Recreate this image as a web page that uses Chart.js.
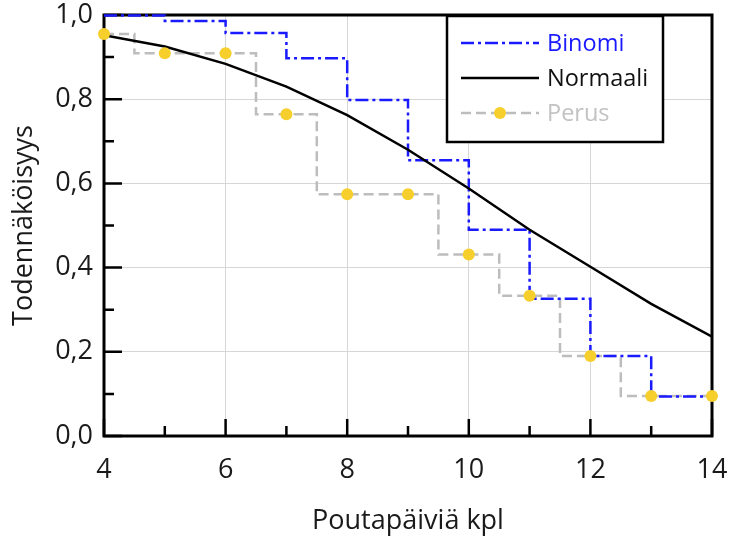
<!DOCTYPE html>
<html>
<head>
<meta charset="utf-8">
<script src="https://cdn.jsdelivr.net/npm/chart.js@4/dist/chart.umd.min.js"></script>
<style>
  html, body { margin: 0; padding: 0; background: #fff; }
  #wrap { width: 735px; height: 538px; }
</style>
</head>
<body>
<div id="wrap"><canvas id="c" width="735" height="538"></canvas></div>
<script>
// Poutapäivien lukumäärä (x) ja todennäköisyydet P(X >= x)
const poutapaivat = [4, 5, 6, 7, 8, 9, 10, 11, 12, 13, 14];
const binomi   = [0.999, 0.986, 0.957, 0.897, 0.798, 0.655, 0.490, 0.326, 0.190, 0.094, 0.094];
const normaali = [0.952, 0.925, 0.884, 0.830, 0.762, 0.680, 0.588, 0.490, 0.402, 0.314, 0.236];
const perus    = [0.955, 0.909, 0.909, 0.764, 0.574, 0.574, 0.431, 0.333, 0.190, 0.095, 0.095];

const xTickLabels = ['4', '6', '8', '10', '12', '14'];
const yTickLabels = ['0,0', '0,2', '0,4', '0,6', '0,8', '1,0'];

const seriesNames = ['Binomi', 'Normaali', 'Perus'];

const BLUE = '#1a1aff';
const GREY = '#bdbdbd';
const YELLOW = '#f6cf2c';
const FONT = "'Open Sans', 'DejaVu Sans', sans-serif";

const pts = ys => poutapaivat.map((x, i) => ({ x: x, y: ys[i] }));

// Kehys ja sisäänpäin osoittavat asteikkomerkit
const framePlugin = {
  id: 'frame',
  beforeDatasetsDraw(chart) {
    const { ctx, chartArea: a, scales: { x, y } } = chart;
    ctx.save();
    ctx.strokeStyle = '#000';
    ctx.lineWidth = 2.5;
    ctx.lineCap = 'butt';
    ctx.beginPath();
    for (let v = x.min; v <= x.max; v += 1) {
      const px = x.getPixelForValue(v);
      const len = (v % 2 === 0) ? 17 : 10;
      ctx.moveTo(px, a.bottom);
      ctx.lineTo(px, a.bottom - len);
    }
    for (let k = 0; k <= 10; k++) {
      const py = y.getPixelForValue(k / 10);
      const len = (k % 2 === 0) ? 18 : 10;
      ctx.moveTo(a.left, py);
      ctx.lineTo(a.left + len, py);
    }
    ctx.stroke();
    ctx.lineWidth = 3;
    ctx.strokeRect(a.left, a.top, a.right - a.left, a.bottom - a.top);
    ctx.restore();
  }
};

// Selite kuva-alueen oikeassa yläkulmassa
const legendBoxPlugin = {
  id: 'legendBox',
  afterDatasetsDraw(chart) {
    const { ctx, chartArea: a } = chart;
    const bx = a.right - 265, by = a.top + 1, bw = 216, bh = 126;
    ctx.save();
    ctx.fillStyle = '#fff';
    ctx.fillRect(bx, by, bw, bh);
    ctx.strokeStyle = '#000';
    ctx.lineWidth = 2.5;
    ctx.strokeRect(bx, by, bw, bh);
    const rows = [
      { color: BLUE, text: BLUE, dash: [13, 4, 3, 4], point: false },
      { color: '#000', text: '#111', dash: [], point: false },
      { color: GREY, text: '#c2c2c2', dash: [10, 5], point: true }
    ];
    rows.forEach((r, i) => {
      const yy = by + 27 + i * 35;
      const x0 = bx + 14, x1 = bx + 92;
      ctx.setLineDash(r.dash);
      ctx.strokeStyle = r.color;
      ctx.lineWidth = 2.5;
      ctx.beginPath();
      ctx.moveTo(x0, yy);
      ctx.lineTo(x1, yy);
      ctx.stroke();
      ctx.setLineDash([]);
      if (r.point) {
        ctx.fillStyle = YELLOW;
        ctx.beginPath();
        ctx.arc((x0 + x1) / 2, yy, 6, 0, Math.PI * 2);
        ctx.fill();
      }
      ctx.fillStyle = r.text;
      ctx.font = "23.5px " + FONT;
      ctx.textBaseline = 'middle';
      ctx.textAlign = 'left';
      ctx.fillText(seriesNames[i], bx + 100, yy + 1);
    });
    ctx.restore();
  }
};

new Chart(document.getElementById('c'), {
  type: 'line',
  data: {
    datasets: [
      {
        label: seriesNames[2],
        data: pts(perus),
        borderColor: GREY,
        borderWidth: 2.5,
        borderDash: [10, 5],
        stepped: 'middle',
        pointRadius: 0,
        order: 4
      },
      {
        label: seriesNames[0],
        data: pts(binomi),
        borderColor: BLUE,
        borderWidth: 2.5,
        borderDash: [13, 4, 3, 4],
        stepped: 'before',
        pointRadius: 0,
        clip: 4,
        order: 3
      },
      {
        label: seriesNames[1],
        data: pts(normaali),
        borderColor: '#000',
        borderWidth: 2.5,
        tension: 0,
        pointRadius: 0,
        order: 2
      },
      {
        label: seriesNames[2],
        data: pts(perus),
        showLine: false,
        pointRadius: 6,
        pointBackgroundColor: YELLOW,
        pointBorderColor: YELLOW,
        pointBorderWidth: 0,
        clip: false,
        order: 1
      }
    ]
  },
  options: {
    responsive: false,
    animation: false,
    events: [],
    layout: { padding: { top: 15, right: 23, bottom: 0, left: 0 } },
    plugins: {
      legend: { display: false },
      tooltip: { enabled: false }
    },
    scales: {
      x: {
        type: 'linear',
        min: 4,
        max: 14,
        ticks: {
          stepSize: 2,
          padding: 18,
          color: '#1a1a1a',
          font: { family: FONT, size: 27 },
          callback: (v, i) => xTickLabels[i]
        },
        grid: { color: '#d6d6d6', lineWidth: 1, drawTicks: false },
        border: { display: false },
        title: {
          display: true,
          text: 'Poutapäiviä kpl',
          color: '#1a1a1a',
          font: { family: FONT, size: 27 },
          padding: { top: 8, bottom: 0 }
        },
        afterFit: s => { s.height = 102; s.paddingLeft = 0; s.paddingRight = 0; }
      },
      y: {
        type: 'linear',
        min: 0,
        max: 1,
        ticks: {
          stepSize: 0.2,
          padding: 11,
          color: '#1a1a1a',
          font: { family: FONT, size: 27 },
          callback: (v, i) => yTickLabels[i]
        },
        grid: { color: '#d6d6d6', lineWidth: 1, drawTicks: false },
        border: { display: false },
        title: {
          display: true,
          text: 'Todennäköisyys',
          color: '#1a1a1a',
          font: { family: FONT, size: 27 },
          padding: { top: 8, bottom: 0 }
        },
        afterFit: s => { s.width = 104; s.paddingTop = 0; s.paddingBottom = 0; }
      }
    }
  },
  plugins: [framePlugin, legendBoxPlugin]
});
</script>
</body>
</html>
